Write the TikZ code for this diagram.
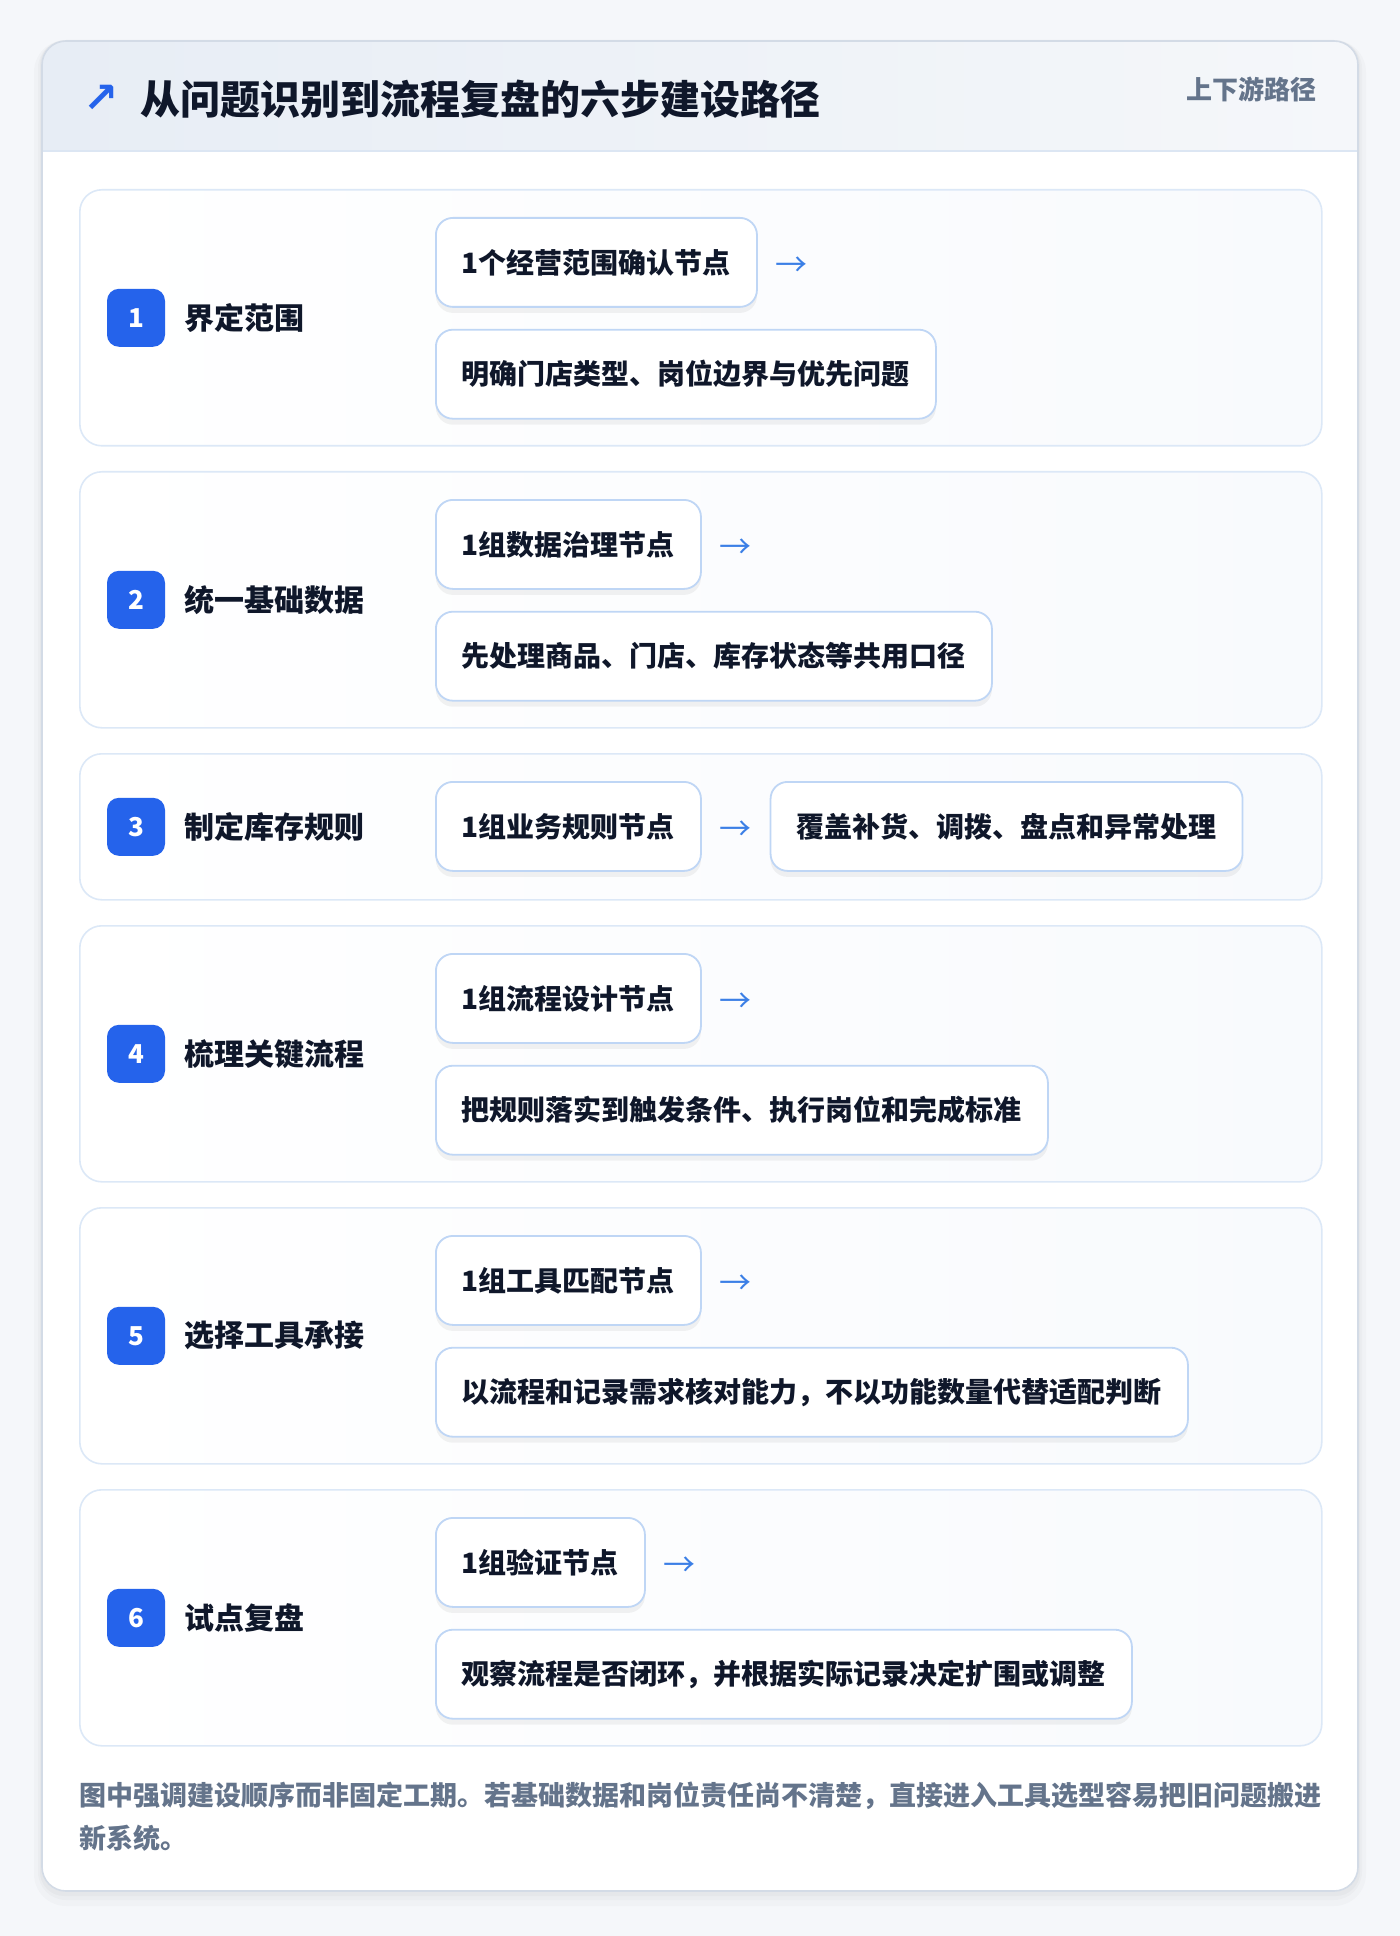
\documentclass[tikz,border=0pt]{standalone}
\usepackage{fontspec}
\setmainfont{Noto Sans CJK SC}
\newfontfamily\symfont{DejaVu Sans}
\usepackage{tikz}
\usetikzlibrary{positioning, shadows}

\definecolor{pagebg}{HTML}{F5F7FA}
\definecolor{frameline}{HTML}{D3DBE6}
\definecolor{headl}{HTML}{E7EDF5}
\definecolor{headr}{HTML}{F5F7FA}
\definecolor{headline}{HTML}{DCE6F3}
\definecolor{stepline}{HTML}{DCE8F7}
\definecolor{cardr}{HTML}{F8FAFD}
\definecolor{boxline}{HTML}{BFD6F5}
\definecolor{badgeblue}{HTML}{2563EB}
\definecolor{arrowblue}{HTML}{3B7FE6}
\definecolor{ink}{HTML}{0F172A}
\definecolor{muted}{HTML}{64748B}

\tikzset{
	stepcard/.style={draw=stepline, line width=0.8pt, left color=white, right color=cardr, rounded corners=11pt, minimum width=621pt, anchor=north west, inner sep=0pt},
	tall/.style={minimum height=128pt},
	short/.style={minimum height=73pt},
	badge/.style={fill=badgeblue, text=white, rounded corners=6pt, minimum size=29pt, inner sep=0pt, font=\fontsize{13}{13}\selectfont\bfseries},
	steptitle/.style={text=ink, inner sep=0pt, font=\fontsize{15}{15}\selectfont\bfseries},
	itembox/.style={draw=boxline, line width=0.9pt, fill=white, rounded corners=8.5pt, minimum height=44.5pt, inner xsep=13pt, inner ysep=0pt, text=ink, font=\fontsize{14}{14}\selectfont\bfseries, drop shadow={shadow xshift=0pt, shadow yshift=-3pt, opacity=0.05, fill=black}},
	flowarrow/.style={text=arrowblue, inner sep=0pt, font=\fontsize{16}{16}\selectfont},
	footnote/.style={text=muted, anchor=west, inner sep=0pt, font=\fontsize{13.5}{13.5}\selectfont\bfseries},
}

\begin{document}
\begin{tikzpicture}[x=1pt, y=-1pt]

\fill [pagebg] (0,0) rectangle (700,968);
\useasboundingbox (0,0) rectangle (700,968);

% outer frame and header
\fill [black, opacity=0.02, rounded corners=16pt] (17,20) rectangle (683,953);
\fill [black, opacity=0.02, rounded corners=14pt] (19,20) rectangle (681,950);
\fill [black, opacity=0.025, rounded corners=12pt] (20,20.5) rectangle (680,948);
\fill [white, rounded corners=12pt] (21,20.5) rectangle (679,945.5);
\fill [left color=headl, right color=headr] (21,75.5) [rounded corners=12pt] -- (21,20.5) -- (679,20.5) [sharp corners] -- (679,75.5) -- cycle;
\draw [headline, line width=0.8pt] (21,75.5) -- (679,75.5);
\draw [frameline, line width=0.8pt, rounded corners=12pt] (21,20.5) rectangle (679,945.5);

\node [text=badgeblue, inner sep=0pt, font=\symfont\bfseries\fontsize{21}{21}\selectfont] (icon) at (50.5,49.5) {↗};
\node [text=ink, anchor=west, inner sep=0pt, font=\fontsize{20}{20}\selectfont\bfseries] (title) at (70,49.5) {从问题识别到流程复盘的六步建设路径};
\node [text=muted, anchor=east, inner sep=0pt, font=\fontsize{13}{13}\selectfont\bfseries] (tag) at (658.5,44.5) {上下游路径};

% step 1
\node [stepcard, tall] (c1) at (39.5,94.5) {};
\node [badge] (b1) at ([xshift=28.5pt]c1.west) {1};
\node [steptitle, right=9.5pt of b1] (t1) {界定范围};
\node [itembox, anchor=north west] (p1) at ([xshift=178pt, yshift=-14pt]c1.north west) {1个经营范围确认节点};
\node [flowarrow, right=8.5pt of p1, yshift=-2pt] (a1) {→};
\node [itembox, below right=10.5pt and 0pt of p1.south west] (q1) {明确门店类型、岗位边界与优先问题};

% step 2
\node [stepcard, tall] (c2) at (39.5,235.5) {};
\node [badge] (b2) at ([xshift=28.5pt]c2.west) {2};
\node [steptitle, right=9.5pt of b2] (t2) {统一基础数据};
\node [itembox, anchor=north west] (p2) at ([xshift=178pt, yshift=-14pt]c2.north west) {1组数据治理节点};
\node [flowarrow, right=8.5pt of p2, yshift=-2pt] (a2) {→};
\node [itembox, below right=10.5pt and 0pt of p2.south west] (q2) {先处理商品、门店、库存状态等共用口径};

% step 3
\node [stepcard, short] (c3) at (39.5,376.5) {};
\node [badge] (b3) at ([xshift=28.5pt]c3.west) {3};
\node [steptitle, right=9.5pt of b3] (t3) {制定库存规则};
\node [itembox, anchor=north west] (p3) at ([xshift=178pt, yshift=-14pt]c3.north west) {1组业务规则节点};
\node [flowarrow, right=8.5pt of p3, yshift=-2pt] (a3) {→};
\node [itembox, right=9pt of a3, yshift=2pt] (q3) {覆盖补货、调拨、盘点和异常处理};

% step 4
\node [stepcard, tall] (c4) at (39.5,462.5) {};
\node [badge] (b4) at ([xshift=28.5pt]c4.west) {4};
\node [steptitle, right=9.5pt of b4] (t4) {梳理关键流程};
\node [itembox, anchor=north west] (p4) at ([xshift=178pt, yshift=-14pt]c4.north west) {1组流程设计节点};
\node [flowarrow, right=8.5pt of p4, yshift=-2pt] (a4) {→};
\node [itembox, below right=10.5pt and 0pt of p4.south west] (q4) {把规则落实到触发条件、执行岗位和完成标准};

% step 5
\node [stepcard, tall] (c5) at (39.5,603.5) {};
\node [badge] (b5) at ([xshift=28.5pt]c5.west) {5};
\node [steptitle, right=9.5pt of b5] (t5) {选择工具承接};
\node [itembox, anchor=north west] (p5) at ([xshift=178pt, yshift=-14pt]c5.north west) {1组工具匹配节点};
\node [flowarrow, right=8.5pt of p5, yshift=-2pt] (a5) {→};
\node [itembox, below right=10.5pt and 0pt of p5.south west] (q5) {以流程和记录需求核对能力，不以功能数量代替适配判断};

% step 6
\node [stepcard, tall] (c6) at (39.5,744.5) {};
\node [badge] (b6) at ([xshift=28.5pt]c6.west) {6};
\node [steptitle, right=9.5pt of b6] (t6) {试点复盘};
\node [itembox, anchor=north west] (p6) at ([xshift=178pt, yshift=-14pt]c6.north west) {1组验证节点};
\node [flowarrow, right=8.5pt of p6, yshift=-2pt] (a6) {→};
\node [itembox, below right=10.5pt and 0pt of p6.south west] (q6) {观察流程是否闭环，并根据实际记录决定扩围或调整};

% note
\node [footnote] (n1) at (39.5,898) {图中强调建设顺序而非固定工期。若基础数据和岗位责任尚不清楚，直接进入工具选型容易把旧问题搬进};
\node [footnote] (n2) at (39.5,919) {新系统。};

\end{tikzpicture}
\end{document}
